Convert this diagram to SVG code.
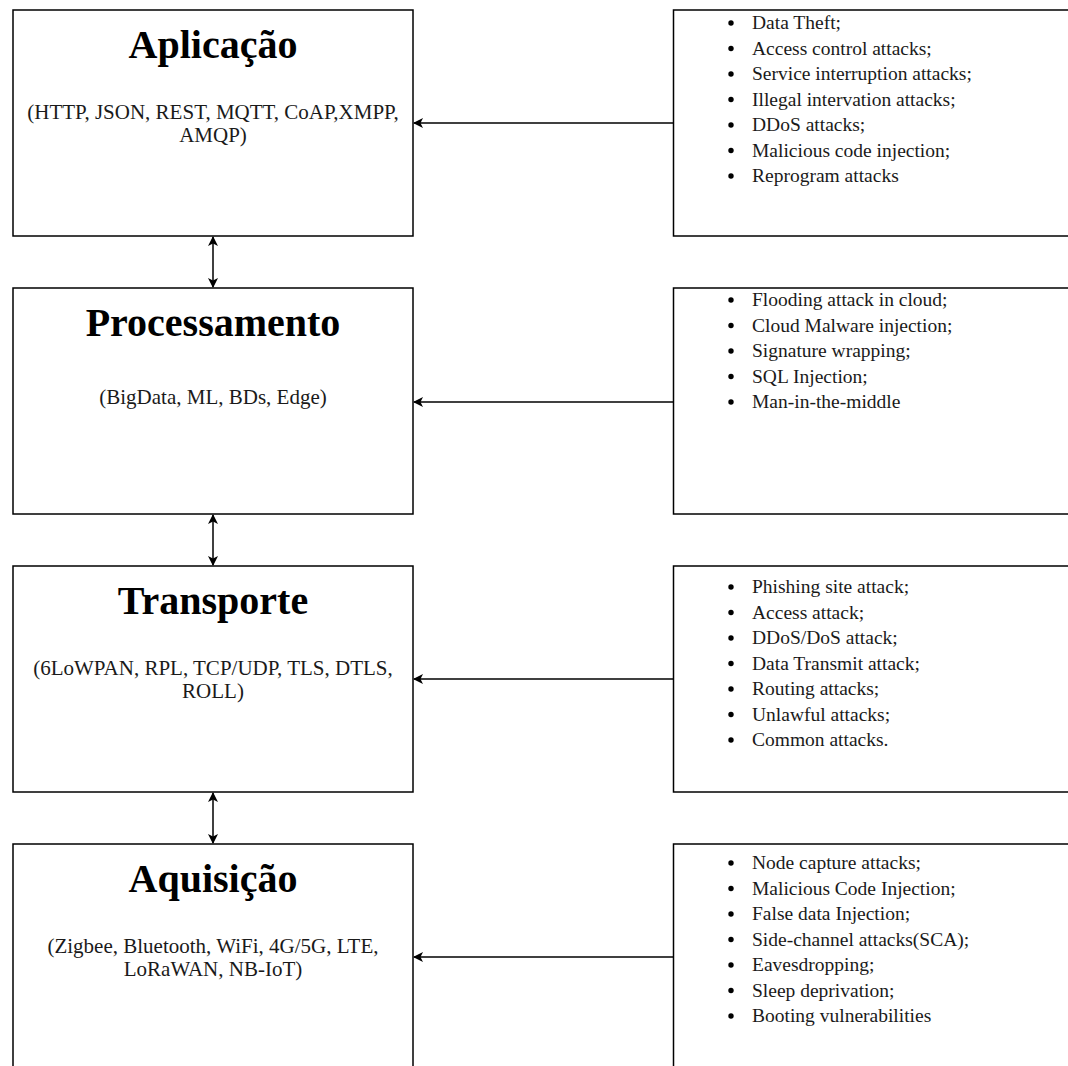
<svg xmlns="http://www.w3.org/2000/svg" width="1068" height="1066" viewBox="0 0 1068 1066">
<style>
.box{fill:#fff;stroke:#000;stroke-width:1.5}
.title{font-family:"Liberation Serif","Times New Roman",serif;font-weight:bold;font-size:40px;text-anchor:middle;fill:#000}
.sub{font-family:"Liberation Serif","Times New Roman",serif;font-size:21px;text-anchor:middle;fill:#1a1a1a}
.li{font-family:"Liberation Serif","Times New Roman",serif;font-size:19.5px;fill:#1a1a1a}
.bul{fill:#000}
.conn{stroke:#000;stroke-width:1.5;fill:none}
</style>
<defs>
<marker id="ah" viewBox="0 0 10 10" refX="9" refY="5" markerWidth="10" markerHeight="10" markerUnits="userSpaceOnUse" orient="auto-start-reverse">
<path d="M0,0 L10,5 L0,10 L2.5,5 Z" fill="#000"/>
</marker>
</defs>
<rect width="1068" height="1066" fill="#fff"/>
<g id="aplicacao">
<rect class="box" x="13" y="10" width="400" height="226"/>
<text class="title" x="213" y="58">Aplicação</text>
<text class="sub" x="213" y="119">(HTTP, JSON, REST, MQTT, CoAP,XMPP,</text>
<text class="sub" x="213" y="142">AMQP)</text>
</g>
<g id="processamento">
<rect class="box" x="13" y="288" width="400" height="226"/>
<text class="title" x="213" y="336">Processamento</text>
<text class="sub" x="213" y="404">(BigData, ML, BDs, Edge)</text>
</g>
<g id="transporte">
<rect class="box" x="13" y="566" width="400" height="226"/>
<text class="title" x="213" y="614">Transporte</text>
<text class="sub" x="213" y="675">(6LoWPAN, RPL, TCP/UDP, TLS, DTLS,</text>
<text class="sub" x="213" y="698">ROLL)</text>
</g>
<g id="aquisicao">
<rect class="box" x="13" y="844" width="400" height="240"/>
<text class="title" x="213" y="892">Aquisição</text>
<text class="sub" x="213" y="953">(Zigbee, Bluetooth, WiFi, 4G/5G, LTE,</text>
<text class="sub" x="213" y="976">LoRaWAN, NB-IoT)</text>
</g>
<g id="ataques-aplicacao">
<rect class="box" x="673.5" y="10" width="410" height="226"/>
<g class="bul"><circle cx="731" cy="23" r="2.7"/><circle cx="731" cy="48.5" r="2.7"/><circle cx="731" cy="74" r="2.7"/><circle cx="731" cy="99.5" r="2.7"/><circle cx="731" cy="125" r="2.7"/><circle cx="731" cy="150.5" r="2.7"/><circle cx="731" cy="176" r="2.7"/></g>
<text class="li" x="752" y="29">Data Theft;</text>
<text class="li" x="752" y="54.5">Access control attacks;</text>
<text class="li" x="752" y="80">Service interruption attacks;</text>
<text class="li" x="752" y="105.5">Illegal intervation attacks;</text>
<text class="li" x="752" y="131">DDoS attacks;</text>
<text class="li" x="752" y="156.5">Malicious code injection;</text>
<text class="li" x="752" y="182">Reprogram attacks</text>
</g>
<g id="ataques-processamento">
<rect class="box" x="673.5" y="288" width="410" height="226"/>
<g class="bul"><circle cx="731" cy="300" r="2.7"/><circle cx="731" cy="325.5" r="2.7"/><circle cx="731" cy="351" r="2.7"/><circle cx="731" cy="376.5" r="2.7"/><circle cx="731" cy="402" r="2.7"/></g>
<text class="li" x="752" y="306">Flooding attack in cloud;</text>
<text class="li" x="752" y="331.5">Cloud Malware injection;</text>
<text class="li" x="752" y="357">Signature wrapping;</text>
<text class="li" x="752" y="382.5">SQL Injection;</text>
<text class="li" x="752" y="408">Man-in-the-middle</text>
</g>
<g id="ataques-transporte">
<rect class="box" x="673.5" y="566" width="410" height="226"/>
<g class="bul"><circle cx="731" cy="587" r="2.7"/><circle cx="731" cy="612.5" r="2.7"/><circle cx="731" cy="638" r="2.7"/><circle cx="731" cy="663.5" r="2.7"/><circle cx="731" cy="689" r="2.7"/><circle cx="731" cy="714.5" r="2.7"/><circle cx="731" cy="740" r="2.7"/></g>
<text class="li" x="752" y="593">Phishing site attack;</text>
<text class="li" x="752" y="618.5">Access attack;</text>
<text class="li" x="752" y="644">DDoS/DoS attack;</text>
<text class="li" x="752" y="669.5">Data Transmit attack;</text>
<text class="li" x="752" y="695">Routing attacks;</text>
<text class="li" x="752" y="720.5">Unlawful attacks;</text>
<text class="li" x="752" y="746">Common attacks.</text>
</g>
<g id="ataques-aquisicao">
<rect class="box" x="673.5" y="844" width="410" height="240"/>
<g class="bul"><circle cx="731" cy="863" r="2.7"/><circle cx="731" cy="888.5" r="2.7"/><circle cx="731" cy="914" r="2.7"/><circle cx="731" cy="939.5" r="2.7"/><circle cx="731" cy="965" r="2.7"/><circle cx="731" cy="990.5" r="2.7"/><circle cx="731" cy="1016" r="2.7"/></g>
<text class="li" x="752" y="869">Node capture attacks;</text>
<text class="li" x="752" y="894.5">Malicious Code Injection;</text>
<text class="li" x="752" y="920">False data Injection;</text>
<text class="li" x="752" y="945.5">Side-channel attacks(SCA);</text>
<text class="li" x="752" y="971">Eavesdropping;</text>
<text class="li" x="752" y="996.5">Sleep deprivation;</text>
<text class="li" x="752" y="1022">Booting vulnerabilities</text>
</g>
<g id="connectors">
<line class="conn" x1="673.5" y1="123" x2="414" y2="123" marker-end="url(#ah)"/>
<line class="conn" x1="673.5" y1="402" x2="414" y2="402" marker-end="url(#ah)"/>
<line class="conn" x1="673.5" y1="679" x2="414" y2="679" marker-end="url(#ah)"/>
<line class="conn" x1="673.5" y1="957" x2="414" y2="957" marker-end="url(#ah)"/>
<line class="conn" x1="213" y1="237" x2="213" y2="287" marker-start="url(#ah)" marker-end="url(#ah)"/>
<line class="conn" x1="213" y1="515" x2="213" y2="565" marker-start="url(#ah)" marker-end="url(#ah)"/>
<line class="conn" x1="213" y1="793" x2="213" y2="843" marker-start="url(#ah)" marker-end="url(#ah)"/>
</g>
</svg>
